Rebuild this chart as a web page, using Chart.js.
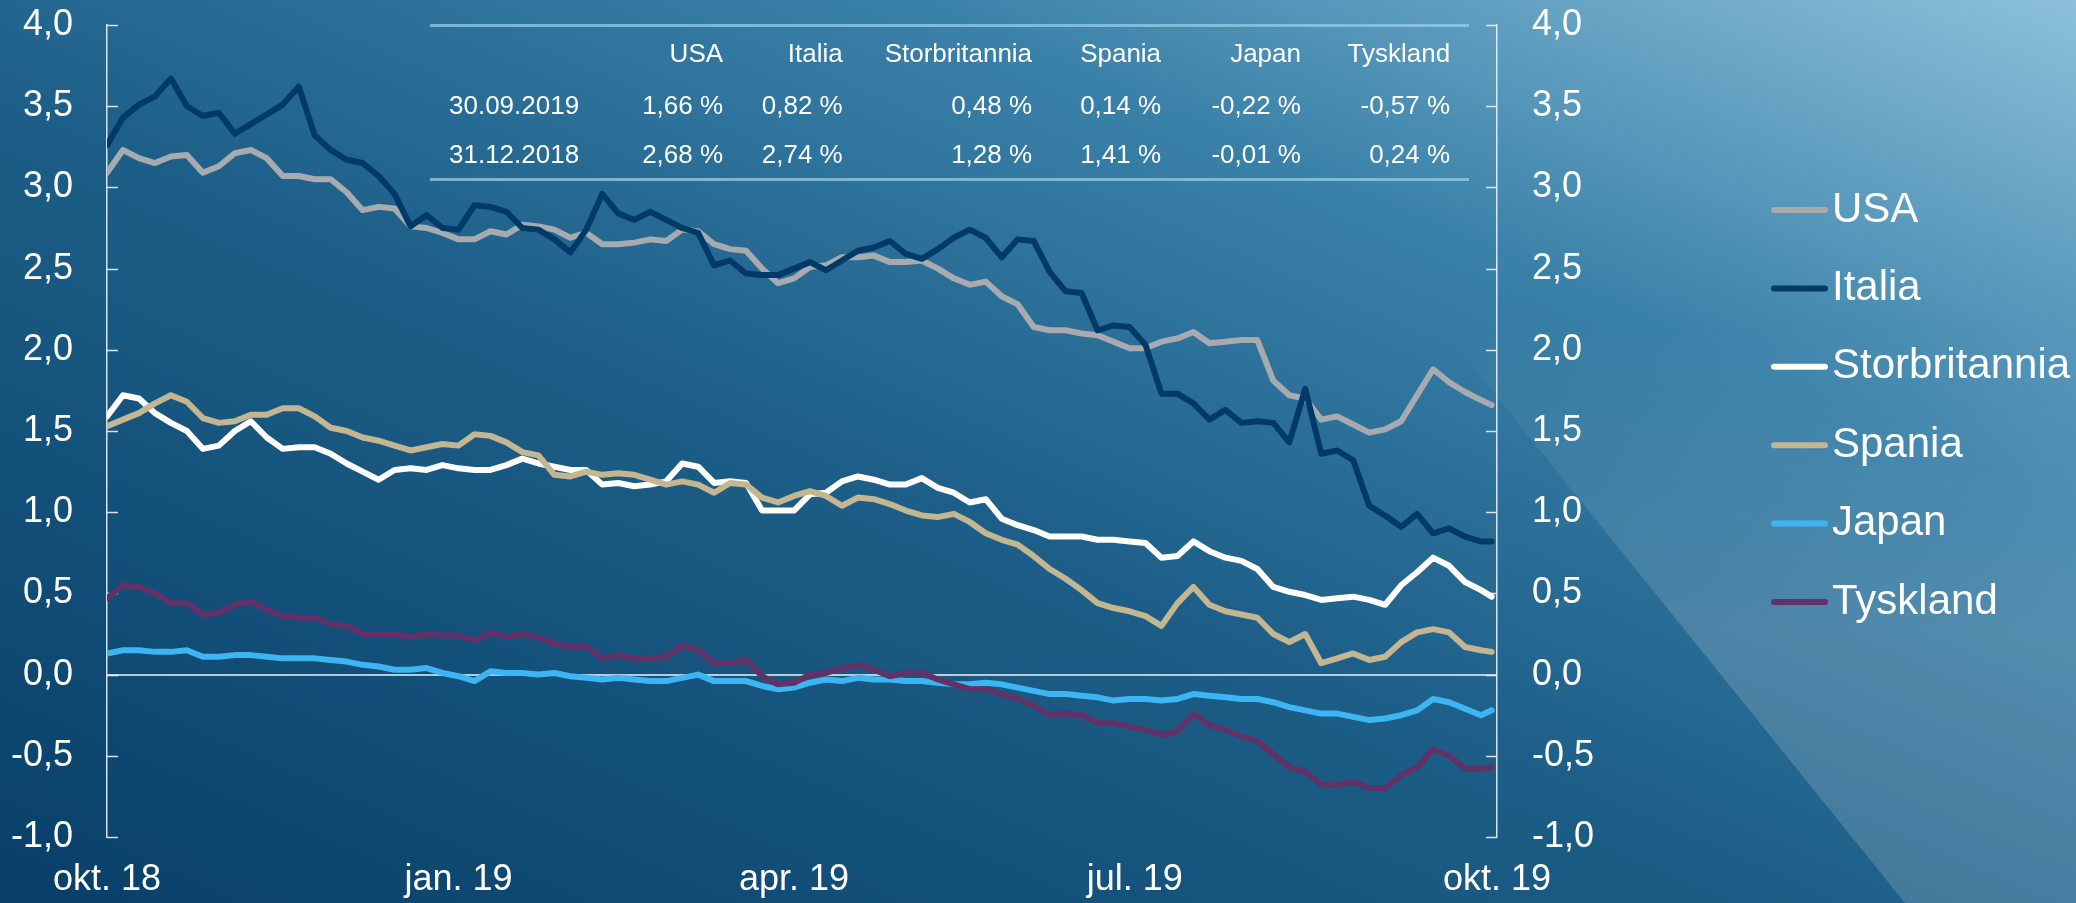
<!DOCTYPE html>
<html>
<head>
<meta charset="utf-8">
<title>Renter 10 år</title>
<script src="https://cdn.jsdelivr.net/npm/chart.js"></script>
<style>
  html, body { margin: 0; padding: 0; }
  body { width: 2076px; height: 903px; overflow: hidden; font-family: "Liberation Sans", Arial, sans-serif; }
  #wrap {
    position: relative; width: 2076px; height: 903px;
    background: linear-gradient(to top right, #083f68 0%, #1d5f88 45%, #3a81a9 72%, #8cc0da 100%);
  }
  #shade {
    position: absolute; left: 0; top: 0; width: 2076px; height: 903px;
    clip-path: polygon(1455px 345px, 1905px 903px, 2076px 903px, 2076px 0px, 1180px 0px);
    background: linear-gradient(to bottom, rgba(255,255,255,0) 36%, rgba(255,255,255,0.16) 70%);
  }
  canvas { position: absolute; left: 0; top: 0; }
  #summary {
    position: absolute; left: 430px; top: 23.5px; width: 1039px;
    border-top: 3px solid rgba(150, 205, 230, 0.75);
    border-bottom: 3px solid rgba(150, 205, 230, 0.75);
    border-collapse: collapse; color: #fff; font-size: 26px;
  }
  #summary td { padding: 0; text-align: right; white-space: nowrap; }
  #summary td:first-child { text-align: left; padding-left: 19px; }
</style>
</head>
<body>
<div id="wrap">
  <div id="shade"></div>
  <canvas id="myChart" width="2076" height="903"></canvas>
  <table id="summary"></table>
</div>
<script>
// trading day since 1 Oct 2018
const tradingDay = [0,3,6,9,12,15,18,21,24,27,30,33,36,39,42,45,48,51,54,57,60,63,66,
  69,72,75,78,81,84,87,90,93,96,99,102,105,108,111,114,117,120,123,126,129,132,
  135,138,141,144,147,150,153,156,159,162,165,168,171,174,177,180,183,186,189,192,195,
  198,201,204,207,210,213,216,219,222,225,228,231,234,237,240,243,246,249,252,255,258,260];

const usa = [3.09,3.23,3.18,3.15,3.19,3.20,3.09,3.13,3.21,3.23,3.18,3.07,3.07,3.05,3.05,2.97,2.86,2.88,2.87,2.76,2.75,2.72,2.68,
  2.68,2.73,2.71,2.77,2.76,2.74,2.69,2.72,2.65,2.65,2.66,2.68,2.67,2.74,2.73,2.65,2.62,2.61,2.50,2.41,2.44,2.51,
  2.52,2.57,2.57,2.58,2.54,2.54,2.55,2.50,2.44,2.40,2.42,2.33,2.28,2.14,2.12,2.12,2.10,2.09,2.05,2.01,2.01,
  2.05,2.07,2.11,2.04,2.05,2.06,2.06,1.81,1.72,1.70,1.57,1.59,1.54,1.49,1.51,1.56,1.72,1.88,1.80,1.74,1.69,1.66];

const italia = [3.26,3.43,3.51,3.56,3.67,3.50,3.44,3.46,3.33,3.39,3.45,3.51,3.62,3.32,3.23,3.17,3.15,3.07,2.96,2.76,2.83,2.75,2.74,
  2.89,2.88,2.85,2.75,2.74,2.68,2.60,2.74,2.96,2.84,2.80,2.85,2.80,2.75,2.72,2.52,2.55,2.47,2.46,2.46,2.50,2.54,
  2.49,2.55,2.61,2.63,2.67,2.59,2.56,2.62,2.69,2.74,2.69,2.57,2.68,2.67,2.48,2.36,2.35,2.12,2.15,2.14,2.03,
  1.73,1.73,1.67,1.57,1.63,1.55,1.56,1.55,1.43,1.76,1.36,1.38,1.32,1.04,0.98,0.91,0.99,0.87,0.90,0.85,0.82,0.82];

const storbritannia = [1.59,1.72,1.70,1.61,1.55,1.50,1.39,1.41,1.50,1.56,1.46,1.39,1.40,1.40,1.36,1.30,1.25,1.20,1.26,1.27,1.26,1.29,1.27,
  1.26,1.26,1.29,1.33,1.30,1.28,1.26,1.26,1.17,1.18,1.16,1.17,1.19,1.30,1.28,1.18,1.19,1.18,1.01,1.01,1.01,1.11,
  1.12,1.19,1.22,1.20,1.17,1.17,1.21,1.15,1.12,1.06,1.08,0.96,0.92,0.89,0.85,0.85,0.85,0.83,0.83,0.82,0.81,
  0.72,0.73,0.82,0.76,0.72,0.70,0.65,0.54,0.51,0.49,0.46,0.47,0.48,0.46,0.43,0.55,0.63,0.72,0.67,0.57,0.52,0.48];

const spania = [1.53,1.57,1.61,1.67,1.72,1.68,1.58,1.55,1.56,1.60,1.60,1.64,1.64,1.59,1.52,1.50,1.46,1.44,1.41,1.38,1.40,1.42,1.41,
  1.48,1.47,1.43,1.37,1.35,1.23,1.22,1.25,1.23,1.24,1.23,1.20,1.17,1.19,1.17,1.12,1.18,1.17,1.09,1.06,1.10,1.13,
  1.10,1.04,1.09,1.08,1.05,1.01,0.98,0.97,0.99,0.94,0.87,0.83,0.80,0.73,0.65,0.59,0.52,0.44,0.41,0.39,0.36,
  0.30,0.44,0.54,0.43,0.39,0.37,0.35,0.25,0.20,0.25,0.07,0.10,0.13,0.09,0.11,0.20,0.26,0.28,0.26,0.17,0.15,0.14];

const japan = [0.13,0.15,0.15,0.14,0.14,0.15,0.11,0.11,0.12,0.12,0.11,0.10,0.10,0.10,0.09,0.08,0.06,0.05,0.03,0.03,0.04,0.01,-0.01,
  -0.04,0.02,0.01,0.01,0.00,0.01,-0.01,-0.02,-0.03,-0.02,-0.03,-0.04,-0.04,-0.02,0.00,-0.04,-0.04,-0.04,-0.07,-0.09,-0.08,-0.05,
  -0.03,-0.04,-0.02,-0.03,-0.03,-0.04,-0.04,-0.05,-0.06,-0.06,-0.05,-0.06,-0.08,-0.10,-0.12,-0.12,-0.13,-0.14,-0.16,-0.15,-0.15,
  -0.16,-0.15,-0.12,-0.13,-0.14,-0.15,-0.15,-0.17,-0.20,-0.22,-0.24,-0.24,-0.26,-0.28,-0.27,-0.25,-0.22,-0.15,-0.17,-0.21,-0.25,-0.22];

const tyskland = [0.47,0.55,0.54,0.50,0.44,0.44,0.37,0.38,0.43,0.45,0.40,0.36,0.35,0.35,0.31,0.30,0.25,0.25,0.25,0.23,0.25,0.24,0.24,
  0.21,0.26,0.23,0.25,0.23,0.19,0.17,0.17,0.10,0.12,0.10,0.10,0.11,0.18,0.15,0.07,0.07,0.09,-0.01,-0.06,-0.05,0.00,
  0.01,0.04,0.06,0.03,-0.01,0.01,0.01,-0.03,-0.06,-0.09,-0.09,-0.12,-0.15,-0.19,-0.25,-0.24,-0.25,-0.30,-0.30,-0.32,-0.34,
  -0.37,-0.35,-0.24,-0.31,-0.34,-0.38,-0.41,-0.49,-0.57,-0.60,-0.68,-0.68,-0.66,-0.70,-0.70,-0.62,-0.57,-0.46,-0.50,-0.58,-0.58,-0.57];

// x axis labels (month starts)
const tickDays = [0, 66, 129, 193, 261];
const tickNames = ['okt. 18', 'jan. 19', 'apr. 19', 'jul. 19', 'okt. 19'];

// summary table
const countries = ['USA', 'Italia', 'Storbritannia', 'Spania', 'Japan', 'Tyskland'];
const tableDates = ['30.09.2019', '31.12.2018'];
const lastValues = [1.66, 0.82, 0.48, 0.14, -0.22, -0.57];
const yearEndValues = [2.68, 2.74, 1.28, 1.41, -0.01, 0.24];

const seriesList = [usa, italia, storbritannia, spania, japan, tyskland];
const colors = ['#a7abb0', '#013a68', '#ffffff', '#c4b690', '#3db5f2', '#603268'];

const FONT = '"Liberation Sans", Arial, sans-serif';
const axisColor = 'rgba(235, 242, 247, 0.9)';

function pct(v) { return v.toFixed(2).replace('.', ',') + ' %'; }

// build the table
var colW = [160, 118, 122, 192, 132, 143, 152];
var rowH = [52, 52, 47];
var rows = [[''].concat(countries),
  [tableDates[0]].concat(lastValues.map(pct)),
  [tableDates[1]].concat(yearEndValues.map(pct))];
var html = '';
rows.forEach(function (r, ri) {
  html += '<tr style="height:' + rowH[ri] + 'px;line-height:' + rowH[ri] + 'px">';
  r.forEach(function (c, ci) { html += '<td style="width:' + colW[ci] + 'px">' + c + '</td>'; });
  html += '<td style="width:20px"></td></tr>';
});
document.getElementById('summary').innerHTML = html;

// inward tick marks on both y axes
const innerTicks = {
  id: 'innerTicks',
  beforeDatasetsDraw(chart) {
    const {ctx, chartArea, scales} = chart;
    ctx.save();
    ctx.strokeStyle = axisColor;
    ctx.lineWidth = 1.5;
    scales.y.ticks.forEach(t => {
      const y = Math.round(scales.y.getPixelForValue(t.value)) + 0.5;
      ctx.beginPath();
      ctx.moveTo(chartArea.left, y); ctx.lineTo(chartArea.left + 11, y);
      ctx.moveTo(chartArea.right, y); ctx.lineTo(chartArea.right - 11, y);
      ctx.stroke();
    });
    ctx.restore();
  }
};

// legend on the right side
const sideLegend = {
  id: 'sideLegend',
  afterDraw(chart) {
    const ctx = chart.ctx;
    ctx.save();
    ctx.font = '42px ' + FONT;
    ctx.textBaseline = 'middle';
    ctx.textAlign = 'left';
    chart.data.datasets.forEach((ds, i) => {
      const y = 210 + i * 78.4;
      ctx.strokeStyle = ds.borderColor;
      ctx.lineWidth = 6;
      ctx.lineCap = 'round';
      ctx.beginPath();
      ctx.moveTo(1774, y); ctx.lineTo(1825, y);
      ctx.stroke();
      ctx.fillStyle = '#ffffff';
      ctx.fillText(ds.label, 1832, y);
    });
    ctx.restore();
  }
};

// keep the tick label padding from pushing the plot area down
function fitY(width) {
  return s => { s.width = width; s.paddingTop = 0; s.paddingBottom = 0; };
}

var ctx = document.getElementById('myChart').getContext('2d');
var myChart = new Chart(ctx, {
  type: 'line',
  data: {
    datasets: countries.map((name, i) => ({
      label: name,
      data: tradingDay.map((d, k) => ({ x: d, y: seriesList[i][k] })),
      borderColor: colors[i],
      backgroundColor: colors[i],
      borderWidth: 6,
      pointRadius: 0,
      tension: 0,
      borderJoinStyle: 'round',
      borderCapStyle: 'round',
      order: countries.length - i
    }))
  },
  options: {
    responsive: false,
    animation: false,
    devicePixelRatio: 1,
    layout: { padding: { top: 25, right: 0, bottom: 0, left: 0 } },
    plugins: { legend: { display: false }, tooltip: { enabled: false } },
    scales: {
      x: {
        type: 'linear',
        min: 0,
        max: 261,
        afterBuildTicks: s => { s.ticks = tickDays.map(v => ({ value: v })); },
        afterFit: s => { s.height = 66; },
        grid: { display: false, drawTicks: false },
        border: { display: false },
        ticks: {
          color: '#ffffff',
          font: { family: FONT, size: 36 },
          padding: 21,
          maxRotation: 0,
          autoSkip: false,
          callback: (v, i) => tickNames[i]
        }
      },
      y: {
        position: 'left',
        min: -1,
        max: 4,
        afterFit: fitY(107),
        grid: {
          drawTicks: false,
          lineWidth: 2,
          color: c => Math.abs(c.tick.value) < 1e-9 ? 'rgba(215, 225, 232, 0.85)' : 'rgba(0,0,0,0)'
        },
        border: { color: axisColor, width: 1.5 },
        ticks: {
          stepSize: 0.5,
          color: '#ffffff',
          font: { family: FONT, size: 36 },
          padding: 34,
          callback: v => v.toFixed(1).replace('.', ',')
        }
      },
      y2: {
        position: 'right',
        min: -1,
        max: 4,
        afterFit: fitY(2076 - 1497),
        grid: { display: false, drawTicks: false },
        border: { color: axisColor, width: 1.5 },
        ticks: {
          stepSize: 0.5,
          color: '#ffffff',
          font: { family: FONT, size: 36 },
          padding: 35,
          callback: v => v.toFixed(1).replace('.', ',')
        }
      }
    }
  },
  plugins: [innerTicks, sideLegend]
});
</script>
</body>
</html>
